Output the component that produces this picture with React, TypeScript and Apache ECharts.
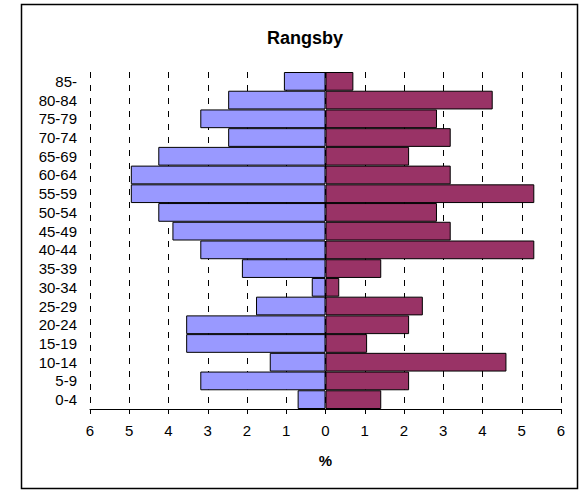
import React, { useEffect, useRef } from "react";
import * as echarts from "echarts";

const ageGroups = ["0-4", "5-9", "10-14", "15-19", "20-24", "25-29", "30-34", "35-39", "40-44", "45-49", "50-54", "55-59", "60-64", "65-69", "70-74", "75-79", "80-84", "85-"];
// Left side (shown as negative values), percent
const leftValues = [0.71, 3.19, 1.42, 3.55, 3.55, 1.77, 0.35, 2.13, 3.19, 3.9, 4.26, 4.96, 4.96, 4.26, 2.48, 3.19, 2.48, 1.06];
// Right side, percent
const rightValues = [1.42, 2.13, 4.61, 1.06, 2.13, 2.48, 0.35, 1.42, 5.32, 3.19, 2.84, 5.32, 3.19, 2.13, 3.19, 2.84, 4.26, 0.71];
const titleText = "Rangsby";
const axisName = "%";

export default function App() {
  const ref = useRef<HTMLDivElement>(null);
  useEffect(() => {
    if (!ref.current) return;
    const chart = echarts.init(ref.current, undefined, { renderer: "svg" });
    const font = "Arial, 'Liberation Sans', sans-serif";
    chart.setOption({
      animation: false,
      backgroundColor: "#ffffff",
      textStyle: { fontFamily: font },
      title: {
        text: titleText,
        left: 262,
        top: 24,
        textStyle: { fontFamily: font, fontSize: 18, fontWeight: "bold", color: "#000" },
      },
      graphic: [
        {
          type: "rect",
          shape: { x: 21.5, y: 4.5, width: 556, height: 484 },
          style: { fill: "none", stroke: "#000", lineWidth: 1.5 },
          silent: true,
        },
      ],
      grid: { left: 90, right: 27, top: 72, bottom: 81, containLabel: false },
      xAxis: {
        type: "value",
        min: -6,
        max: 6,
        interval: 1,
        name: axisName,
        nameLocation: "middle",
        nameGap: 44,
        nameTextStyle: { fontFamily: font, fontSize: 15, fontWeight: "bold", color: "#000" },
        axisLine: { show: true, lineStyle: { color: "#000", width: 1 } },
        axisTick: { show: true, length: 5, lineStyle: { color: "#000" } },
        axisLabel: {
          fontFamily: font,
          fontSize: 15,
          color: "#000",
          margin: 14,
          formatter: (v: number) => String(Math.abs(v)),
        },
        splitLine: { show: true, lineStyle: { color: "#000", type: [6, 7], width: 1 } },
      },
      yAxis: {
        type: "category",
        data: ageGroups,
        axisLine: { show: false },
        axisTick: { show: false },
        axisLabel: { fontFamily: font, fontSize: 15, color: "#000", margin: 13, interval: 0 },
        splitLine: { show: false },
      },
      series: [
        {
          type: "bar",
          data: leftValues.map((v) => -v),
          barGap: "-100%",
          barCategoryGap: "0%",
          itemStyle: { color: "#9999FF", borderColor: "#000", borderWidth: 1 },
        },
        {
          type: "bar",
          data: rightValues,
          barGap: "-100%",
          barCategoryGap: "0%",
          itemStyle: { color: "#993366", borderColor: "#000", borderWidth: 1 },
        },
      ],
    });
    return () => chart.dispose();
  }, []);
  return (
    <div
      ref={ref}
      style={{ position: "fixed", left: 0, top: 0, width: 588, height: 490 }}
    />
  );
}
